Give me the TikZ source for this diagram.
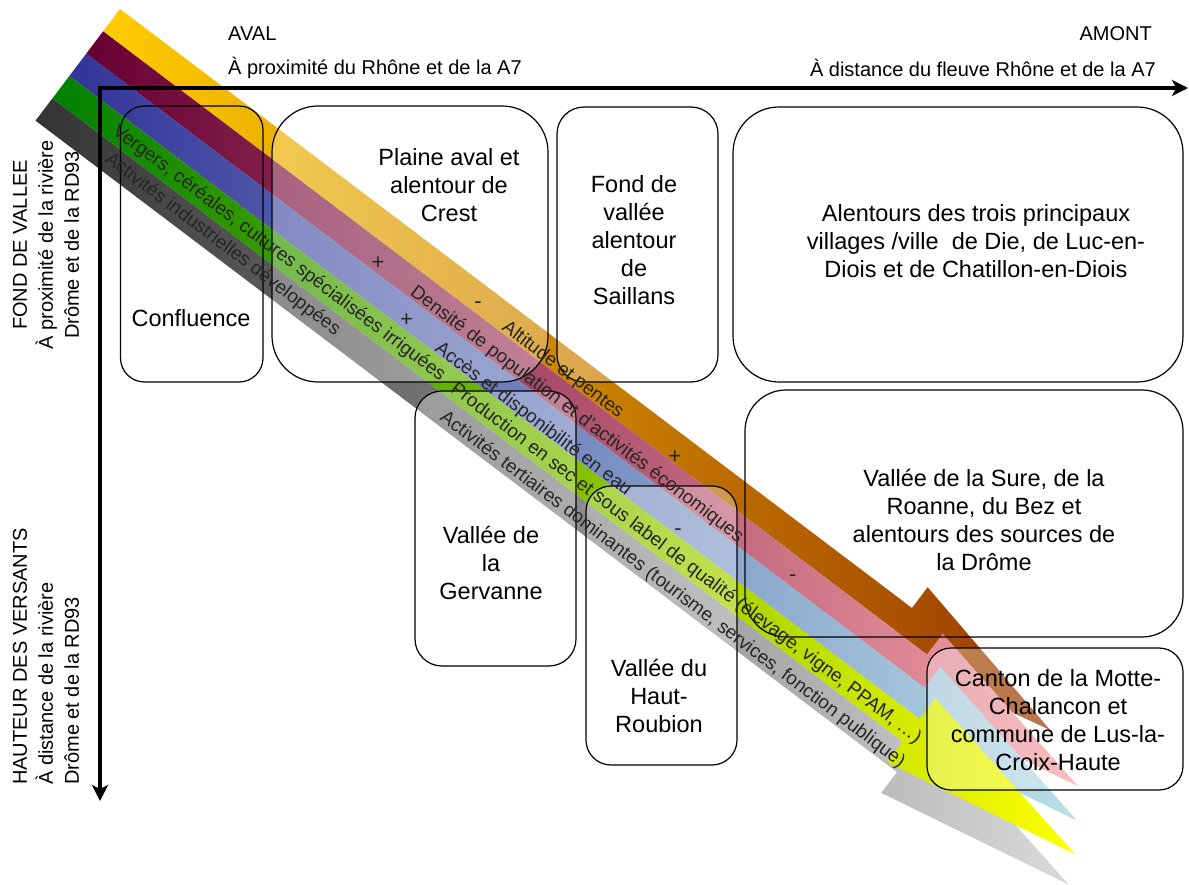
\documentclass[tikz,border=0pt]{standalone}
\usepackage{fontspec}
\setmainfont{Liberation Sans}
\usetikzlibrary{arrows.meta}

% band colours (start / middle / end of each gradient)
\definecolor{altA}{HTML}{FFCC00}
\definecolor{altB}{HTML}{DC9000}
\definecolor{altC}{HTML}{993A00}
\definecolor{denA}{HTML}{660033}
\definecolor{denB}{HTML}{CC6474}
\definecolor{denC}{HTML}{F6A3A8}
\definecolor{eauA}{HTML}{333399}
\definecolor{eauB}{HTML}{8AA6CA}
\definecolor{eauC}{HTML}{B8E0E6}
\definecolor{agrA}{HTML}{008000}
\definecolor{agrB}{HTML}{C0D800}
\definecolor{agrC}{HTML}{FFFF00}
\definecolor{actA}{HTML}{333333}
\definecolor{actB}{HTML}{8C8C8C}
\definecolor{actC}{HTML}{DADADA}

\begin{document}
\begin{tikzpicture}[
  x=1pt, y=-1pt,
  bandframe/.style={shift={(120,9)}, rotate=-37.1},
  zone/.style={draw, line width=1.2pt, fill=white, fill opacity=0.3, text opacity=1, inner sep=0pt},
  zonetext/.style={align=center, inner sep=0pt, font=\fontsize{23.5}{28}\selectfont},
  bandtext/.style={rotate=-37.1, inner sep=0pt, text=black!85, font=\fontsize{19}{23}\selectfont},
  sign/.style={inner sep=0pt, text=black!85, font=\fontsize{22}{24}\selectfont},
  axislabel/.style={inner sep=0pt, font=\fontsize{20}{26}\selectfont},
  axis/.style={line width=3.5pt, {Stealth[length=16pt, width=16pt, inset=4pt]}-{Stealth[length=16pt, width=16pt, inset=4pt]}}
]
\useasboundingbox (0,0) rectangle (1189,885);

% the five gradient arrows
\begin{scope}[bandframe]
  \foreach \vt/\nu/\tu/\ca/\cb/\cc in {0/993/1177/altA/altB/altC, 28/1033/1233/denA/denB/denC,
      56/1051/1253/eauA/eauB/eauC, 112/1080/1285/actA/actB/actC, 84/1066/1272/agrA/agrB/agrC}{
    \pgfmathsetmacro\vb{\vt+28}
    \pgfmathsetmacro\vc{\vt+14}
    \shade[left color=\ca, middle color=\cb, right color=\cc]
      (0,\vt) -- (\nu,\vt) -- (\nu,\vt-26) -- (\tu,\vc) -- (\nu,\vb+26) -- (\nu,\vb) -- (0,\vb) -- cycle;
  }
\end{scope}

% zones
\node[zone, fill=none, minimum width=142.5, minimum height=276, rounded corners=24] (confluence) at (191.75,244) {};
\node[zone, minimum width=276, minimum height=276, rounded corners=46] (plaine) at (410,244) {};
\node[zone, minimum width=161, minimum height=275, rounded corners=27] (saillans) at (637.5,244.5) {};
\node[zone, minimum width=450, minimum height=275, rounded corners=46] (die) at (958,244.5) {};
\node[zone, minimum width=161, minimum height=275, rounded corners=27] (gervanne) at (495.5,528.5) {};
\node[zone, fill=none, minimum width=438, minimum height=247, rounded corners=41] (sure) at (964,513.5) {};
\node[zone, minimum width=151, minimum height=279, rounded corners=25] (roubion) at (661.5,625.5) {};
\node[zone, minimum width=256, minimum height=142, rounded corners=24] (canton) at (1055,719) {};

\node[zonetext] (confluencetxt) at (191,318) {Confluence};
\node[zonetext] (plainetxt) at (449,185) {Plaine aval et\\alentour de\\Crest};
\node[zonetext] (saillanstxt) at (634,240) {Fond de\\vallée\\alentour\\de\\Saillans};
\node[zonetext] (dietxt) at (976,241) {Alentours des trois principaux\\villages /ville~ de Die, de Luc-en-\\Diois et de Chatillon-en-Diois};
\node[zonetext] (gervannetxt) at (491,563) {Vallée de\\la\\Gervanne};
\node[zonetext] (suretxt) at (984,520) {Vallée de la Sure, de la\\Roanne, du Bez et\\alentours des sources de\\la Drôme};
\node[zonetext] (roubiontxt) at (659,696) {Vallée du\\Haut-\\Roubion};
\node[zonetext] (cantontxt) at (1058,720) {Canton de la Motte-\\Chalancon et\\commune de Lus-la-\\Croix-Haute};

% band labels and signs
\begin{scope}[bandframe]
  \node[bandtext] (altitude) at (571,21) {Altitude et pentes};
  \node[bandtext] (densite) at (609,48) {Densité de population et d'activités économiques};
  \node[bandtext] (acces) at (577,78) {Accès et disponibilité en eau};
  \node[bandtext] (vergers) at (274,99) {Vergers, céréales, cultures spécialisées irriguées};
  \node[bandtext] (production) at (786,101) {Production en sec et sous label de qualité (élevage, vigne, PPAM, …)};
  \node[bandtext] (industrie) at (224,126) {Activités industrielles développées};
  \node[bandtext] (tertiaire) at (791,130) {Activités tertiaires dominantes (tourisme, services, fonction publique)};
  \node[sign] (altmoins) at (464,20) {-};
  \node[sign] (altplus) at (713,23) {+};
  \node[sign] (densplus) at (359,47) {+};
  \node[sign] (densmoins) at (880,48) {-};
  \node[sign] (eauplus) at (416,75) {+};
  \node[sign] (eaumoins) at (761,81) {-};
\end{scope}

% axes
\coordinate (origin) at (100,88);
\coordinate (amont) at (1188,88);
\coordinate (versant) at (100,801);
\draw[axis] (versant) -- (origin) -- (amont);

\node[axislabel, anchor=west] (aval) at (228,34) {AVAL};
\node[axislabel, anchor=west] (avaltxt) at (228,68) {À proximité du Rhône et de la A7};
\node[axislabel, anchor=east] (amontlbl) at (1152,34) {AMONT};
\node[axislabel, anchor=east] (amonttxt) at (1156,68) {À distance du fleuve Rhône et de la A7};
\node[axislabel, rotate=90, align=center] (fond) at (46,245) {FOND DE VALLEE\\À proximité de la rivière\\Drôme et de la RD93};
\node[axislabel, rotate=90, align=left, anchor=west] (hauteur) at (46,785) {HAUTEUR DES VERSANTS\\À distance de la rivière\\Drôme et de la RD93};
\end{tikzpicture}
\end{document}
